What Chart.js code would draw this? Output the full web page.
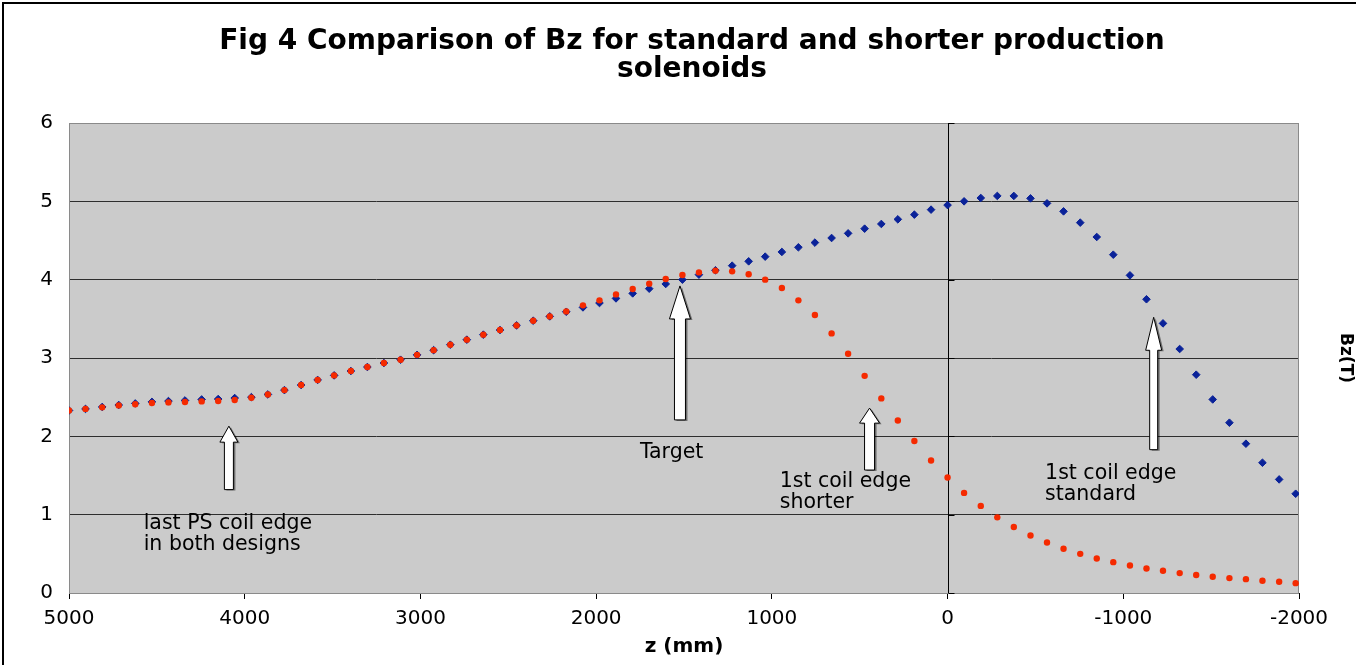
<!DOCTYPE html>
<html>
<head>
<meta charset="utf-8">
<title>Fig 4 Comparison of Bz</title>
<script src="https://cdn.jsdelivr.net/npm/chart.js@4.4.0/dist/chart.umd.min.js"></script>
<style>
  html, body { margin: 0; padding: 0; background: #fff; }
  #wrap { position: relative; width: 1356px; height: 665px; overflow: hidden; }
  #wrap canvas { position: absolute; left: 0; top: 0; }
  #frame {
    position: absolute; left: 2px; top: 2px; width: 1420px; height: 720px;
    border-left: 2px solid #000; border-top: 2px solid #000; pointer-events: none;
  }
</style>
</head>
<body>
<div id="wrap">
  <canvas id="bzChart" width="1356" height="665"></canvas>
  <div id="frame"></div>
</div>
<script>
// z positions along the axis (mm)
const zValues = [
  5000, 4906, 4811, 4717, 4623, 4528, 4434, 4340, 4245, 4151,
  4057, 3962, 3868, 3774, 3679, 3585, 3491, 3396, 3302, 3208,
  3113, 3019, 2925, 2830, 2736, 2642, 2547, 2453, 2358, 2264,
  2170, 2075, 1981, 1887, 1792, 1698, 1604, 1509, 1415, 1321,
  1226, 1132, 1038, 943, 849, 755, 660, 566, 472, 377,
  283, 189, 94, 0, -94, -189, -283, -377, -472, -566,
  -660, -755, -849, -943, -1038, -1132, -1226, -1321, -1415, -1509,
  -1604, -1698, -1792, -1887, -1981
];

// Bz (T) for the standard production solenoid
const bzStandard = [
  2.33, 2.35, 2.375, 2.40, 2.42, 2.44, 2.45, 2.458, 2.471, 2.476,
  2.489, 2.50, 2.535, 2.59, 2.655, 2.72, 2.778, 2.834, 2.885, 2.936,
  2.978, 3.04, 3.10, 3.17, 3.234, 3.298, 3.357, 3.416, 3.476, 3.531,
  3.59, 3.646, 3.702, 3.761, 3.825, 3.885, 3.945, 4.0, 4.064, 4.12,
  4.179, 4.234, 4.294, 4.354, 4.413, 4.473, 4.532, 4.591, 4.651, 4.711,
  4.77, 4.83, 4.894, 4.952, 5.0, 5.043, 5.069, 5.069, 5.038, 4.974,
  4.872, 4.728, 4.545, 4.319, 4.055, 3.75, 3.442, 3.115, 2.787, 2.471,
  2.174, 1.906, 1.663, 1.45, 1.267
];

// Bz (T) for the shorter production solenoid
const bzShorter = [
  2.33, 2.35, 2.37, 2.395, 2.41, 2.425, 2.433, 2.438, 2.446, 2.451,
  2.463, 2.493, 2.535, 2.59, 2.655, 2.72, 2.778, 2.834, 2.885, 2.936,
  2.978, 3.04, 3.10, 3.17, 3.234, 3.298, 3.357, 3.416, 3.476, 3.531,
  3.595, 3.672, 3.736, 3.812, 3.881, 3.949, 4.009, 4.06, 4.093, 4.115,
  4.106, 4.07, 4.0, 3.894, 3.736, 3.549, 3.314, 3.055, 2.772, 2.484,
  2.203, 1.94, 1.692, 1.475, 1.278, 1.112, 0.966, 0.842, 0.734, 0.645,
  0.564, 0.5, 0.441, 0.394, 0.351, 0.313, 0.284, 0.254, 0.229, 0.207,
  0.19, 0.177, 0.156, 0.143, 0.126
];

const xTicks = [5000, 4000, 3000, 2000, 1000, 0, -1000, -2000];
const yTicks = [0, 1, 2, 3, 4, 5, 6];

// arrows: z position, tip and tail heights in tesla
const arrowZ    = [4090, 1523, 444, -1173];
const arrowTip  = [2.13, 3.92, 2.36, 3.52];
const arrowTail = [1.32, 2.21, 1.57, 1.83];

// text notes: left edge z, first line height in tesla
const noteLines = [
  ['last PS coil edge', 'in both designs'],
  ['Target'],
  ['1st coil edge', 'shorter'],
  ['1st coil edge', 'standard']
];
const noteZ  = [4575, 1751, 955, -555];
const noteBz = [0.883, 1.79, 1.42, 1.52];

const FONT = 'DejaVu Sans';

function toPoints(ys) {
  return zValues.map((z, i) => ({ x: z, y: ys[i] }));
}

// grey plot area, its frame and the value axis at z = 0
const plotArea = {
  id: 'plotArea',
  beforeDraw(chart) {
    const { ctx, chartArea: a } = chart;
    ctx.save();
    ctx.fillStyle = '#cbcbcb';
    ctx.fillRect(a.left, a.top, a.right - a.left, a.bottom - a.top);
    ctx.restore();
  },
  beforeDatasetsDraw(chart) {
    const { ctx, chartArea: a, scales } = chart;
    ctx.save();
    ctx.strokeStyle = '#8a8a8a';
    ctx.lineWidth = 1;
    ctx.strokeRect(a.left + 0.5, a.top + 0.5, a.right - a.left - 1, a.bottom - a.top);
    const x0 = Math.round(scales.x.getPixelForValue(0)) + 0.5;
    ctx.strokeStyle = '#000';
    ctx.beginPath();
    ctx.moveTo(x0, a.top);
    ctx.lineTo(x0, a.bottom);
    yTicks.forEach(v => {
      const y = Math.round(scales.y.getPixelForValue(v)) + 0.5;
      ctx.moveTo(x0, y);
      ctx.lineTo(x0 + 6, y);
    });
    ctx.stroke();
    ctx.restore();
  }
};

const notes = {
  id: 'notes',
  afterDatasetsDraw(chart) {
    const { ctx, scales } = chart;
    const heads = [[16, 18, 9], [33, 21, 11], [15, 20, 10], [33, 16, 8]];
    ctx.save();
    arrowZ.forEach((z, i) => {
      const x = scales.x.getPixelForValue(z);
      const tip = scales.y.getPixelForValue(arrowTip[i]);
      const tail = scales.y.getPixelForValue(arrowTail[i]);
      const [hl, hw, sw] = heads[i];
      ctx.beginPath();
      ctx.moveTo(x, tip);
      ctx.lineTo(x + hw / 2, tip + hl);
      ctx.lineTo(x + sw / 2, tip + hl);
      ctx.lineTo(x + sw / 2, tail);
      ctx.lineTo(x - sw / 2, tail);
      ctx.lineTo(x - sw / 2, tip + hl);
      ctx.lineTo(x - hw / 2, tip + hl);
      ctx.closePath();
      ctx.shadowColor = 'rgba(0,0,0,0.45)';
      ctx.shadowOffsetX = 2;
      ctx.shadowOffsetY = 1;
      ctx.fillStyle = '#fff';
      ctx.fill();
      ctx.shadowColor = 'transparent';
      ctx.strokeStyle = '#000';
      ctx.lineWidth = 1;
      ctx.stroke();
    });
    ctx.fillStyle = '#000';
    ctx.font = '20.5px ' + FONT;
    ctx.textAlign = 'left';
    ctx.textBaseline = 'middle';
    noteLines.forEach((lines, i) => {
      const x = scales.x.getPixelForValue(noteZ[i]);
      const y = scales.y.getPixelForValue(noteBz[i]);
      lines.forEach((t, j) => ctx.fillText(t, x, y + j * 21));
    });
    ctx.restore();
  }
};

new Chart(document.getElementById('bzChart'), {
  type: 'scatter',
  data: {
    datasets: [
      {
        label: 'shorter',
        data: toPoints(bzShorter),
        pointStyle: 'circle',
        pointRadius: 3.2,
        backgroundColor: '#f52a00',
        borderColor: '#f52a00',
        borderWidth: 0,
        order: 1
      },
      {
        label: 'standard',
        data: toPoints(bzStandard),
        pointStyle: 'rectRot',
        pointRadius: 3.8,
        backgroundColor: '#0a2299',
        borderColor: '#0a2299',
        borderWidth: 1,
        order: 2
      }
    ]
  },
  options: {
    responsive: false,
    animation: false,
    layout: { padding: { left: 28, right: 0, top: 0, bottom: 0 } },
    plugins: {
      legend: { display: false },
      tooltip: { enabled: false },
      title: {
        display: true,
        text: ['Fig 4 Comparison of Bz for standard and shorter production', 'solenoids'],
        color: '#000',
        font: { family: FONT, size: 28, weight: 'bold', lineHeight: 1.0 },
        padding: { top: 28, bottom: 39 }
      }
    },
    scales: {
      x: {
        type: 'linear',
        min: -2000,
        max: 5000,
        reverse: true,
        afterBuildTicks(s) { s.ticks = xTicks.map(v => ({ value: v })); },
        afterFit(s) { s.height = 72; },
        ticks: {
          color: '#000',
          font: { family: FONT, size: 20 },
          padding: 8,
          maxRotation: 0,
          callback: v => String(v)
        },
        grid: { drawOnChartArea: false, tickLength: 6, color: '#000' },
        border: { color: '#000', width: 1 },
        title: {
          display: true,
          text: 'z (mm)',
          color: '#000',
          font: { family: FONT, size: 20, weight: 'bold' },
          padding: { bottom: 6 }
        }
      },
      y: {
        min: 0,
        max: 6,
        afterBuildTicks(s) { s.ticks = yTicks.map(v => ({ value: v })); },
        afterFit(s) { s.width = 41; },
        ticks: { color: '#000', font: { family: FONT, size: 20 }, padding: 16 },
        grid: { color: '#2e2e2e', drawTicks: false },
        border: { display: false }
      },
      y2: {
        position: 'right',
        min: 0,
        max: 6,
        afterFit(s) { s.width = 57; },
        ticks: { display: false },
        grid: { display: false },
        border: { display: false },
        title: {
          display: true,
          text: 'Bz(T)',
          color: '#000',
          font: { family: FONT, size: 17, weight: 'bold' },
          padding: { top: 0 }
        }
      }
    }
  },
  plugins: [plotArea, notes]
});
</script>
</body>
</html>
